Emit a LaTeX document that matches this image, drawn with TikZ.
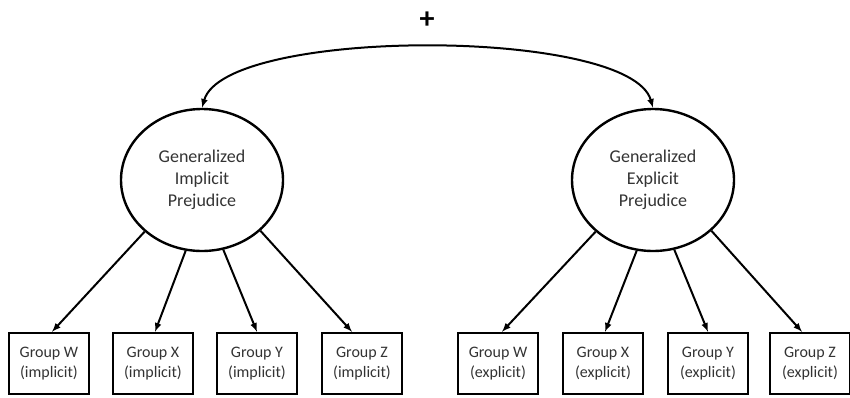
\documentclass[tikz,border=0pt]{standalone}
\usepackage{tikz}
\usetikzlibrary{arrows,shapes.geometric}
\usepackage{fontspec}
\setmainfont{Carlito}

\tikzset{
  factor/.style={draw, ellipse, line width=2.4pt, minimum width=162pt, minimum height=142pt, align=center, font=\fontsize{18}{22}\selectfont, text=black!80},
  indic/.style={draw, rectangle, line width=2.4pt, minimum width=80pt, minimum height=61pt, align=center, font=\fontsize{16}{20}\selectfont, text=black!80},
  load/.style={-latex, line width=2pt}
}

\begin{document}
\begin{tikzpicture}[x=1pt,y=1pt,yscale=-1,xscale=1]
\useasboundingbox (0,0) rectangle (850,397);

%Shape: Ellipse [latent factors]
\node[factor] (impl) at (202,180) {Generalized\\Implicit\\Prejudice};
\node[factor] (expl) at (653,180) {Generalized\\Explicit\\Prejudice};

%Shape: Rectangle [implicit indicators]
\node[indic] (iW) at (49,363.5) {Group W\\(implicit)};
\node[indic] (iX) at (153,363.5) {Group X\\(implicit)};
\node[indic] (iY) at (257,363.5) {Group Y\\(implicit)};
\node[indic] (iZ) at (362,363.5) {Group Z\\(implicit)};

%Shape: Rectangle [explicit indicators]
\node[indic] (eW) at (498,363.5) {Group W\\(explicit)};
\node[indic] (eX) at (603,363.5) {Group X\\(explicit)};
\node[indic] (eY) at (708,363.5) {Group Y\\(explicit)};
\node[indic] (eZ) at (810,363.5) {Group Z\\(explicit)};

%Curve [covariance]
\draw [latex-latex, line width=2pt] (impl.north) .. controls (225,27) and (630,27) .. (expl.north);
\node[font=\fontsize{30}{30}\selectfont\bfseries] (plus) at (427,20) {+};

%Straight Lines [loadings]
\draw [load] (impl.222) -- ([xshift=3pt]iW.north);
\draw [load] (impl.257) -- ([xshift=2pt]iX.north);
\draw [load] (impl.287) -- (iY.north);
\draw [load] (impl.319) -- ([xshift=-10pt]iZ.north);
\draw [load] (expl.222) -- ([xshift=4pt]eW.north);
\draw [load] (expl.257) -- ([xshift=2pt]eX.north);
\draw [load] (expl.287) -- (eY.north);
\draw [load] (expl.319) -- ([xshift=-8pt]eZ.north);

\end{tikzpicture}
\end{document}
